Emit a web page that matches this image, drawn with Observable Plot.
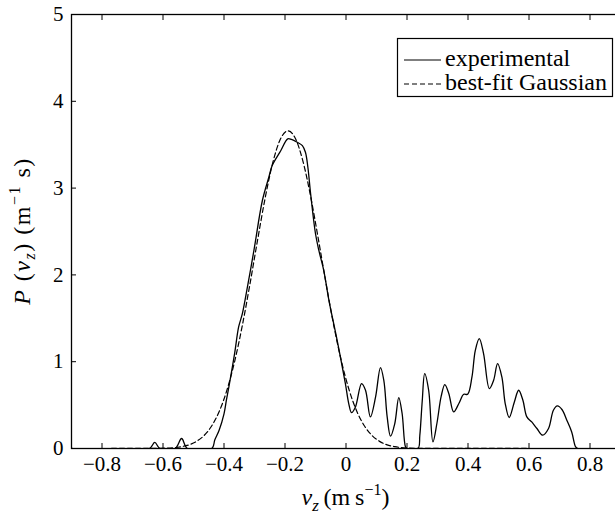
<!DOCTYPE html>
<html><head><meta charset="utf-8">
<script src="https://cdn.jsdelivr.net/npm/d3@7"></script>
<script src="https://cdn.jsdelivr.net/npm/@observablehq/plot@0.6"></script>
<style>
html,body{margin:0;padding:0;overflow:hidden;background:#fff;}
svg text{font-family:'Liberation Serif','Times New Roman',serif;}
</style></head><body><div id="chart"></div>
<script>
// Tick values
const xTicks = [-0.8, -0.6, -0.4, -0.2, 0, 0.2, 0.4, 0.6, 0.8];
const yTicks = [0, 1, 2, 3, 4, 5];
const seriesNames = ["experimental", "best-fit Gaussian"];

// Experimental distribution
const expX = [-0.9, -0.645, -0.627, -0.61, -0.56, -0.539, -0.52, -0.44, -0.43, -0.416, -0.4, -0.392, -0.384,
  -0.365, -0.352, -0.34, -0.331, -0.302, -0.274, -0.253, -0.242, -0.214, -0.191, -0.179, -0.16, -0.143,
  -0.133, -0.125, -0.116, -0.1, -0.089, -0.073, -0.056, -0.029, -0.002, 0.009, 0.018, 0.031, 0.051, 0.064,
  0.08, 0.097, 0.113, 0.124, 0.135, 0.146, 0.16, 0.173, 0.184, 0.195, 0.2, 0.236, 0.242, 0.25, 0.258,
  0.271, 0.285, 0.298, 0.312, 0.324, 0.337, 0.353, 0.37, 0.386, 0.399, 0.413, 0.424, 0.437, 0.451, 0.47,
  0.484, 0.497, 0.511, 0.522, 0.535, 0.552, 0.566, 0.58, 0.593, 0.609, 0.626, 0.645, 0.664, 0.68, 0.693,
  0.708, 0.724, 0.74, 0.753, 0.76, 0.9];
const expY = [0, 0, 0.07, 0, 0, 0.115, 0, 0, 0.1, 0.21, 0.4, 0.56, 0.71,
  1.1, 1.4, 1.55, 1.71, 2.28, 2.86, 3.125, 3.26, 3.43, 3.567, 3.56, 3.528, 3.49,
  3.413, 3.24, 2.934, 2.474, 2.282, 2.052, 1.707, 1.246, 0.748, 0.518, 0.414, 0.479, 0.748, 0.671,
  0.364, 0.594, 0.932, 0.786, 0.364, 0.142, 0.288, 0.587, 0.403, 0.02, 0, 0, 0.15, 0.55, 0.863,
  0.671, 0.076, 0.288, 0.6, 0.736, 0.633, 0.421, 0.518, 0.625, 0.625, 0.824, 1.131, 1.266, 1.093, 0.69,
  0.786, 0.978, 0.824, 0.518, 0.357, 0.536, 0.671, 0.556, 0.364, 0.306, 0.23, 0.153, 0.23, 0.441, 0.49,
  0.449, 0.326, 0.191, 0.018, 0, 0];

// Best-fit Gaussian
const gaussX = [-0.9, -0.64, -0.59, -0.54, -0.515, -0.49, -0.465, -0.44, -0.415, -0.39, -0.365, -0.34,
  -0.315, -0.29, -0.265, -0.24, -0.215, -0.19, -0.165, -0.14, -0.115, -0.09, -0.065, -0.04, -0.015, 0.01,
  0.035, 0.06, 0.085, 0.11, 0.135, 0.16, 0.21, 0.26, 0.9];
const gaussY = [0, 0.001, 0.004, 0.021, 0.042, 0.082, 0.151, 0.262, 0.432, 0.677, 1.005, 1.416,
  1.893, 2.4, 2.887, 3.294, 3.565, 3.66, 3.565, 3.294, 2.887, 2.4, 1.893, 1.416, 1.005, 0.677,
  0.432, 0.262, 0.151, 0.082, 0.042, 0.021, 0.004, 0.001, 0];

const expData = expX.map((x, i) => ({x, y: expY[i]}));
const gaussData = gaussX.map((x, i) => ({x, y: gaussY[i]}));
const fmt = d => d < 0 ? "\u2212" + Math.abs(d) : String(d);
const serif = "Liberation Serif, Times New Roman, serif";

const plot = Plot.plot({
  width: 622, height: 517,
  marginLeft: 71, marginRight: 2, marginTop: 14, marginBottom: 69,
  style: {fontFamily: serif, fontSize: "21px", maxWidth: "none", background: "white", color: "black"},
  x: {domain: [-0.9, 0.9], label: null},
  y: {domain: [0, 5], label: null},
  marks: [
    Plot.line(gaussData, {x: "x", y: "y", stroke: "black", strokeWidth: 1.2, strokeDasharray: "5,3", curve: "monotone-x", clip: true}),
    Plot.line(expData, {x: "x", y: "y", stroke: "black", strokeWidth: 1.3, curve: "catmull-rom", clip: true}),
    Plot.frame({stroke: "black", strokeWidth: 1.3}),
    Plot.axisX(xTicks, {anchor: "bottom", tickSize: -5, tickPadding: 13, tickFormat: fmt, label: null, fontSize: 21, fontFamily: serif}),
    Plot.axisX(xTicks, {anchor: "top", tickSize: -5, tickFormat: () => "", label: null}),
    Plot.axisY(yTicks, {anchor: "left", tickSize: -5, tickPadding: 13, tickFormat: d => String(d), label: null, fontSize: 21, fontFamily: serif})
  ]
});
document.getElementById("chart").appendChild(plot);

const svg = d3.select(plot).attr("font-family", serif);
const xs = plot.scale("x");
const cx = (xs.range[0] + xs.range[1]) / 2;

// x-axis label
const xl = svg.append("text").attr("x", cx).attr("y", 505).attr("text-anchor", "middle")
  .attr("font-size", 24).attr("font-family", serif).attr("fill", "black");
xl.append("tspan").attr("font-style", "italic").text("v");
xl.append("tspan").attr("font-style", "italic").attr("font-size", 17).attr("dy", 6).text("z");
xl.append("tspan").attr("dy", -6).text("\u2009(m\u2009s");
xl.append("tspan").attr("font-size", 16).attr("dy", -10).text("\u22121");
xl.append("tspan").attr("dy", 10).text(")");

// y-axis label
const yl = svg.append("text").attr("transform", "translate(30,231) rotate(-90)").attr("text-anchor", "middle")
  .attr("font-size", 24).attr("font-family", serif).attr("letter-spacing", 1.5).attr("fill", "black");
yl.append("tspan").attr("font-style", "italic").text("P");
yl.append("tspan").text(" (");
yl.append("tspan").attr("font-style", "italic").text("v");
yl.append("tspan").attr("font-style", "italic").attr("font-size", 16).attr("dy", 5).text("z");
yl.append("tspan").attr("dy", -5).text(") (m");
yl.append("tspan").attr("font-size", 16).attr("dy", -10).text("\u22121");
yl.append("tspan").attr("dy", 10).text(" s)");

// legend
const lg = svg.append("g");
lg.append("rect").attr("x", 397.5).attr("y", 38.5).attr("width", 215).attr("height", 58)
  .attr("fill", "white").attr("stroke", "black").attr("stroke-width", 1.2);
[[60, null], [84, "5,3"]].forEach(([yy, dash], i) => {
  lg.append("line").attr("x1", 404).attr("x2", 441).attr("y1", yy).attr("y2", yy)
    .attr("stroke", "black").attr("stroke-width", 1.2).attr("stroke-dasharray", dash);
  lg.append("text").attr("x", 445).attr("y", yy + 6).attr("font-size", 24).attr("font-family", serif)
    .attr("fill", "black").attr("text-anchor", "start").text(seriesNames[i]);
});
</script></body></html>
